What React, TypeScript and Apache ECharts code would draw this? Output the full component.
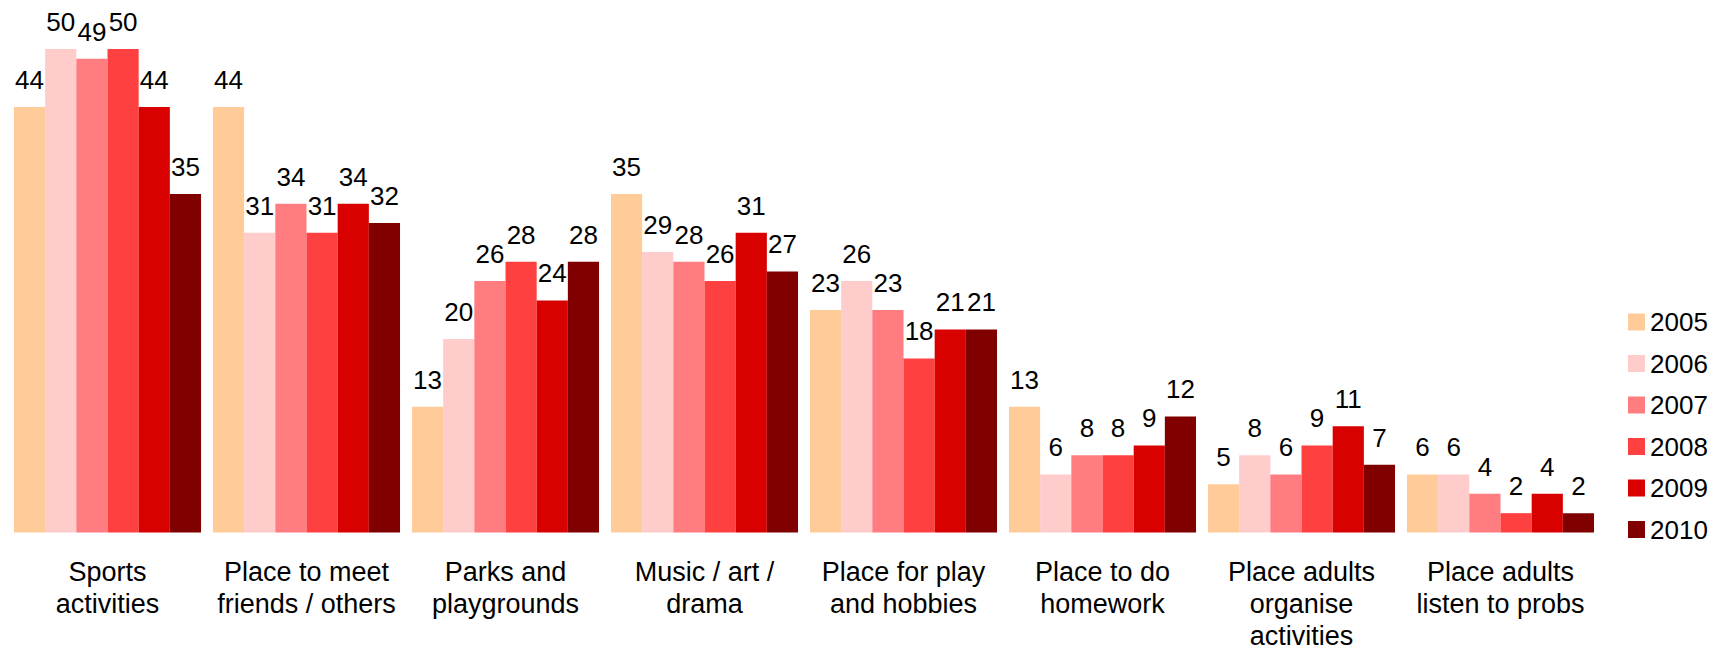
import React, { useEffect, useRef } from "react";
import * as echarts from "echarts";

const categories = [
  "Sports\nactivities",
  "Place to meet\nfriends / others",
  "Parks and\nplaygrounds",
  "Music / art /\ndrama",
  "Place for play\nand hobbies",
  "Place to do\nhomework",
  "Place adults\norganise\nactivities",
  "Place adults\nlisten to probs",
];

const years = ["2005", "2006", "2007", "2008", "2009", "2010"];

const v2005 = [44, 44, 13, 35, 23, 13, 5, 6];
const v2006 = [50, 31, 20, 29, 26, 6, 8, 6];
const v2007 = [49, 34, 26, 28, 23, 8, 6, 4];
const v2008 = [50, 31, 28, 26, 18, 8, 9, 2];
const v2009 = [44, 34, 24, 31, 21, 9, 11, 4];
const v2010 = [35, 32, 28, 27, 21, 12, 7, 2];

const seriesValues = [v2005, v2006, v2007, v2008, v2009, v2010];
const colors = ["#FFCC99", "#FFCCCC", "#FF7C80", "#FF4040", "#D90000", "#800000"];

const FONT = "'Liberation Sans', Arial, sans-serif";

export default function App() {
  const ref = useRef<HTMLDivElement>(null);
  useEffect(() => {
    document.body.style.margin = "0";
    if (!ref.current) return;
    const chart = echarts.init(ref.current, null, { renderer: "svg" });
    chart.setOption({
      animation: false,
      textStyle: { fontFamily: FONT },
      grid: { left: 8, width: 1592, top: 49, bottom: 119.5, containLabel: false },
      legend: {
        orient: "vertical",
        left: 1623,
        top: 304,
        itemWidth: 17,
        itemHeight: 17,
        itemGap: 15.5,
        itemStyle: { borderWidth: 0 },
        icon: "rect",
        textStyle: { fontSize: 26, color: "#000", fontFamily: FONT },
        data: years,
      },
      xAxis: {
        type: "category",
        data: categories,
        axisLine: { show: false },
        axisTick: { show: false },
        axisLabel: {
          interval: 0,
          margin: 23,
          fontSize: 27,
          lineHeight: 32,
          color: "#000",
          fontFamily: FONT,
        },
      },
      yAxis: {
        type: "value",
        min: 0,
        max: 50,
        show: false,
        splitLine: { show: false },
      },
      series: years.map((y, i) => ({
        name: y,
        type: "bar",
        data: seriesValues[i],
        barGap: "0%",
        barCategoryGap: "6%",
        itemStyle: { color: colors[i] },
        label: {
          show: true,
          position: "top",
          distance: 14,
          fontSize: 26,
          color: "#000",
          fontFamily: FONT,
        },
      })),
    });
    return () => chart.dispose();
  }, []);
  return <div ref={ref} style={{ width: 1724, height: 652 }} />;
}
